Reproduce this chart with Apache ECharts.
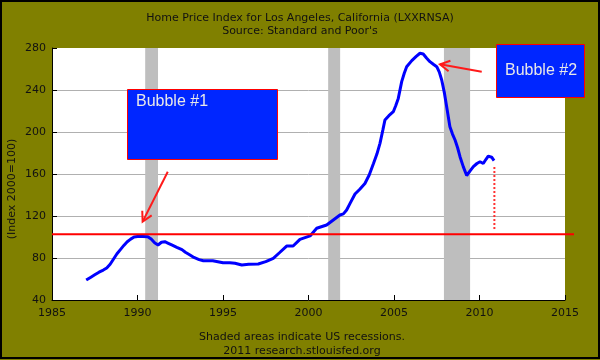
<!DOCTYPE html>
<html><head><meta charset="utf-8">
<script src="https://cdn.jsdelivr.net/npm/echarts@6/dist/echarts.min.js"></script>
<style>html,body{margin:0;padding:0;background:#808000}#c{width:600px;height:360px}</style>
</head><body><div id="c"></div>
<script>
const years = [1987.0,1987.25,1987.5,1987.75,1988.0,1988.2,1988.4,1988.6,1988.8,1989.0,1989.2,1989.4,1989.6,1989.8,1990.0,1990.3,1990.6,1990.8,1991.0,1991.2,1991.4,1991.6,1991.8,1992.0,1992.3,1992.6,1992.8,1993.07,1993.3,1993.6,1993.85,1994.1,1994.4,1994.7,1995.0,1995.4,1995.7,1996.1,1996.5,1997.06,1997.5,1997.94,1998.3,1998.72,1999.1,1999.5,2000.09,2000.48,2001.06,2001.45,2001.84,2002.04,2002.23,2002.43,2002.72,2003.0,2003.3,2003.55,2003.8,2004.0,2004.18,2004.35,2004.47,2004.7,2004.96,2005.1,2005.25,2005.45,2005.6,2005.74,2006.04,2006.3,2006.52,2006.71,2006.9,2007.1,2007.3,2007.5,2007.65,2007.79,2007.95,2008.08,2008.27,2008.42,2008.57,2008.72,2008.86,2009.05,2009.25,2009.45,2009.64,2009.85,2010.03,2010.22,2010.38,2010.51,2010.71,2010.85];
const values = [59,61.5,64,66.5,68.5,70.5,74,79,84,88,92,95.5,98,100,100.5,100.5,100.3,98,94.5,92.4,95,95.5,94,92.5,90.2,88,85.5,82.9,80.5,78.5,77.4,77.5,77.4,76.5,75.5,75.5,75,73.3,74,74.3,76.5,79.7,85,91.4,91.4,97.8,101,108.3,111.4,116.2,121,122,125.7,132,141,145.5,151,159,170,179,189.2,202,211.4,215.5,219.3,225,232,248,256,262.2,268,272,275,274.3,270.5,267,264.5,262.2,257,249.5,237,224,205,198,192.4,185,176.5,167,158.5,163,167,170,171.7,170,174,177,176,172.7];
const recessions = [[1990.45,1991.2],[2001.15,2001.85],[2007.92,2009.45]];
const referenceLevel = 102.6;
const dropYear = 2010.87;
const dropRange = [107.6, 167];
const xTicks = [1985, 2015, 5];
const yTicks = [40, 280, 40];

const FONT = 'DejaVu Sans';
const TXT = '#111';
const chart = echarts.init(document.getElementById('c'));
chart.setOption({
  animation: false,
  backgroundColor: '#808000',
  title: {
    text: 'Home Price Index for Los Angeles, California (LXXRNSA)\nSource: Standard and Poor\'s',
    left: 'center', top: 7,
    textStyle: {fontFamily: FONT, fontSize: 11, fontWeight: 'normal', color: TXT, lineHeight: 13}
  },
  grid: {left: 52, top: 48, right: 35, bottom: 60, show: true, backgroundColor: '#fff', borderWidth: 0},
  xAxis: {
    type: 'value', min: xTicks[0], max: xTicks[1], interval: xTicks[2],
    axisLine: {lineStyle: {color: '#000', width: 1}},
    axisTick: {inside: true, length: 5, lineStyle: {color: '#000'}},
    axisLabel: {fontFamily: FONT, fontSize: 11, color: TXT, margin: 8, formatter: v => String(v)},
    splitLine: {show: false}
  },
  yAxis: {
    type: 'value', min: yTicks[0], max: yTicks[1], interval: yTicks[2],
    axisLine: {show: true, lineStyle: {color: '#000', width: 1}},
    axisTick: {show: true, inside: true, length: 5, lineStyle: {color: '#000'}},
    axisLabel: {fontFamily: FONT, fontSize: 11, color: TXT, margin: 6},
    splitLine: {show: true, showMaxLine: false, lineStyle: {color: '#b0b0b0', width: 1}}
  },
  series: [
    {
      type: 'line', showSymbol: false, symbol: 'none',
      data: years.map((y, i) => [y, values[i]]),
      lineStyle: {color: '#0000ff', width: 3},
      z: 5,
      markArea: {
        silent: true,
        itemStyle: {color: '#bebebe'},
        data: recessions.map(r => [{xAxis: r[0]}, {xAxis: r[1]}])
      }
    },
    {
      type: 'line', showSymbol: false, symbol: 'none',
      data: [[dropYear, dropRange[0]], [dropYear, dropRange[1]]],
      lineStyle: {color: '#ff3030', width: 2, type: [2, 2]},
      z: 4
    }
  ]
});

function P(x, y) { return chart.convertToPixel({gridIndex: 0}, [x, y]); }
function arrow(from, to) {
  const a = P(from[0], from[1]), b = P(to[0], to[1]);
  const ang = Math.atan2(a[1] - b[1], a[0] - b[0]);
  const L = 11, s = 0.5;
  const h1 = [b[0] + L * Math.cos(ang + s), b[1] + L * Math.sin(ang + s)];
  const h2 = [b[0] + L * Math.cos(ang - s), b[1] + L * Math.sin(ang - s)];
  const st = {stroke: '#ff1a1a', lineWidth: 2, fill: null};
  return [
    {type: 'polyline', shape: {points: [a, b]}, style: st, z: 20},
    {type: 'polyline', shape: {points: [h1, b, h2]}, style: st, z: 20}
  ];
}
const refY = P(1985, referenceLevel)[1];
const gfx = [
  {type: 'rect', shape: {x: 1, y: 1, width: 598, height: 357}, style: {fill: null, stroke: '#000', lineWidth: 2}, z: 30},
  {type: 'line', shape: {x1: 52, y1: refY, x2: 574, y2: refY}, style: {stroke: '#ff0000', lineWidth: 2}, z: 15},
  {type: 'rect', shape: {x: 127.5, y: 89.5, width: 150, height: 70}, style: {fill: '#0026ff', stroke: '#ff0000', lineWidth: 1}, z: 18},
  {type: 'text', x: 136, y: 94, style: {text: 'Bubble #1', font: '16px "Liberation Sans", Arial, sans-serif', fill: '#e8e8e8'}, z: 19},
  {type: 'rect', shape: {x: 496.5, y: 44.5, width: 88, height: 53}, style: {fill: '#0026ff', stroke: '#ff0000', lineWidth: 1}, z: 18},
  {type: 'text', x: 541, y: 71, style: {text: 'Bubble #2', font: '16px "Liberation Sans", Arial, sans-serif', fill: '#e8e8e8', align: 'center', verticalAlign: 'middle'}, z: 19},
  {type: 'text', x: 12, y: 189, rotation: Math.PI / 2, style: {text: '(Index 2000=100)', font: '11px "DejaVu Sans"', fill: TXT, align: 'center', verticalAlign: 'middle'}, z: 19},
  {type: 'text', x: 302, y: 337, style: {text: 'Shaded areas indicate US recessions.', font: '11px "DejaVu Sans"', fill: TXT, align: 'center', verticalAlign: 'middle'}, z: 19},
  {type: 'text', x: 302, y: 351, style: {text: '2011 research.stlouisfed.org', font: '11px "DejaVu Sans"', fill: TXT, align: 'center', verticalAlign: 'middle'}, z: 19}
].concat(arrow([1991.77, 162.2], [1990.3, 114.6]), arrow([2010.13, 257.4], [2007.69, 264.5]));
chart.setOption({graphic: gfx});
</script></body></html>
